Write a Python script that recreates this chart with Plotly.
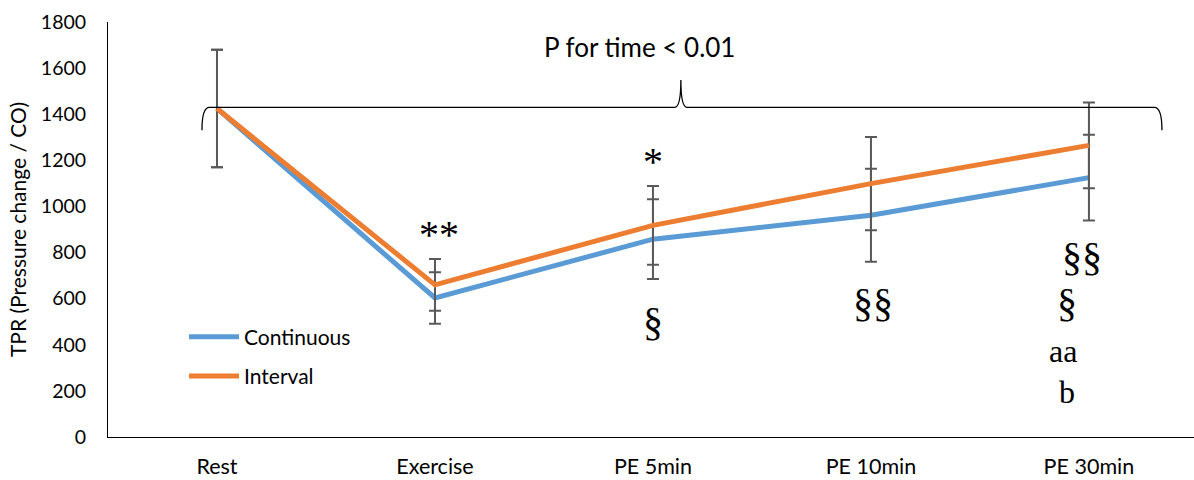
import plotly.graph_objects as go

categories = ["Rest", "Exercise", "PE 5min", "PE 10min", "PE 30min"]
continuous = [1425, 603, 858, 962, 1125]
continuous_sd = [255, 112, 173, 202, 186]
interval = [1425, 660, 918, 1099, 1265]
interval_sd = [255, 112, 171, 202, 186]
y_ticks = [0, 200, 400, 600, 800, 1000, 1200, 1400, 1600, 1800]

# significance marks: (category position, y value, text, font size)
marks = [
    (1.02, 880, "**", 40),
    (2.0, 1195, "*", 40),
    (2.0, 500, "§", 40),
    (3.01, 585, "§§", 40),
    (3.97, 785, "§§", 40),
    (3.9, 585, "§", 40),
    (3.88, 375, "aa", 32),
    (3.9, 195, "b", 32),
]

BLUE = "#5B9BD5"
ORANGE = "#ED7D31"
ERR = "#595959"
FONT = "Lato, Calibri, sans-serif"

fig = go.Figure()
fig.add_trace(go.Scatter(
    x=categories, y=continuous, mode="lines", name="Continuous",
    line=dict(color=BLUE, width=5), legendgroup="a",
    error_y=dict(type="data", array=continuous_sd, color=ERR, thickness=2, width=6),
))
fig.add_trace(go.Scatter(
    x=categories, y=interval, mode="lines", name="Interval",
    line=dict(color=ORANGE, width=5), legendgroup="b",
    error_y=dict(type="data", array=interval_sd, color=ERR, thickness=2, width=6),
))

for xi, yv, txt, sz in marks:
    fig.add_annotation(x=xi, y=yv, text=txt, showarrow=False,
                       font=dict(family="Liberation Serif, Times New Roman, serif", size=sz, color="black"))

# brace spanning all time points
yb, yt, ye = 1430, 1548, 1330
path = (f"M -0.069,{ye} Q -0.069,{yb} -0.035,{yb} L 2.10,{yb} "
        f"Q 2.128,{yb} 2.128,{yt} Q 2.128,{yb} 2.156,{yb} L 4.30,{yb} "
        f"Q 4.335,{yb} 4.335,{ye}")
fig.add_shape(type="path", path=path, xref="x", yref="y",
              line=dict(color="black", width=1.3))
fig.add_annotation(x=1.936, y=1690, text="P for time < 0.01", showarrow=False,
                   font=dict(family=FONT, size=26, color="black"))

fig.update_layout(
    width=1194, height=480,
    margin=dict(l=108, r=0, t=22, b=43),
    paper_bgcolor="white", plot_bgcolor="white",
    font=dict(family=FONT, size=20, color="black"),
    showlegend=True,
    legend=dict(x=0.07, y=0.29, xanchor="left", yanchor="top",
                bgcolor="rgba(0,0,0,0)", font=dict(size=21, family=FONT),
                traceorder="grouped", tracegroupgap=9, itemwidth=50),
    xaxis=dict(type="category", showline=True, linecolor="black", linewidth=1,
               showgrid=False, ticks="", tickfont=dict(size=21.5), range=[-0.5, 4.482],
               ticklabelstandoff=10),
    yaxis=dict(range=[0, 1800], tickvals=y_ticks, showline=True, linecolor="black",
               linewidth=1, showgrid=False, zeroline=False, ticks="",
               ticklabelstandoff=17, tickfont=dict(size=19.5),
               title=dict(text="TPR (Pressure change / CO)", font=dict(size=21), standoff=8)),
)

fig.write_html("out.html")
